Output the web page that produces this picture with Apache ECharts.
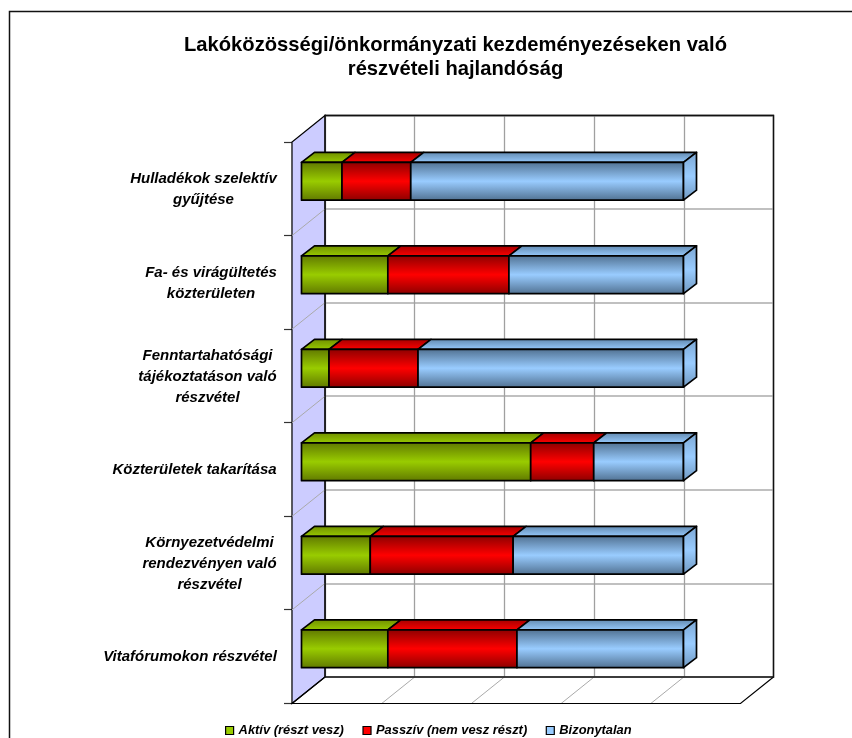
<!DOCTYPE html>
<html>
<head>
<meta charset="utf-8">
<style>html,body{margin:0;padding:0;background:#fff}#c{width:852px;height:738px}</style>
<script src="https://cdn.jsdelivr.net/npm/echarts@6/dist/echarts.min.js"></script>
</head>
<body>
<div id="c"></div>
<script>
const titleLines = ['Lakóközösségi/önkormányzati kezdeményezéseken való', 'részvételi hajlandóság'];
const categories = [
  'Hulladékok szelektív\ngyűjtése',
  'Fa- és virágültetés\nközterületen',
  'Fenntartahatósági\ntájékoztatáson való\nrészvétel',
  'Közterületek takarítása',
  'Környezetvédelmi\nrendezvényen való\nrészvétel',
  'Vitafórumokon részvétel'
];
const seriesNames = ['Aktív (részt vesz)', 'Passzív (nem vesz részt)', 'Bizonytalan'];
const aktiv = [10.6, 22.6, 7.2, 60.0, 18.0, 22.6];
const passziv = [18.0, 31.7, 23.3, 16.5, 37.4, 33.8];
const bizonytalan = [71.4, 45.7, 69.5, 23.5, 44.6, 43.6];
const backTicks = [0, 25, 50, 75, 100, 125];

const FONT = '"Liberation Sans", Arial, sans-serif';
const WALL_DX = -33, WALL_DY = 26.5;   // back plane -> front plane
const BAR_DX = 13, BAR_DY = -10;       // bar depth
const BAR_SHIFT_Y = -7.5;              // bar sits mid-depth
const palette = [
  {edge:'#5f7700', mid:'#99cc00', top:'#6f8c00', side:'#99cc00'},
  {edge:'#8a0000', mid:'#ff0000', top:'#a00000', side:'#ff0000'},
  {edge:'#4f6f8f', mid:'#99ccff', top:'#5f86ac', side:'#99ccff'}
];

const vgrad = (a, b, c) => ({type:'linear', x:0, y:0, x2:0, y2:1,
  colorStops: c ? [{offset:0,color:a},{offset:.5,color:b},{offset:1,color:c}]
                : [{offset:0,color:a},{offset:1,color:b}]});

const LABEL_SIZE = 15;
const measure = document.createElement('canvas').getContext('2d');
measure.font = 'italic bold ' + LABEL_SIZE + 'px ' + FONT;
function blockWidth(text) {
  return Math.ceil(Math.max(...text.split('\n').map(l => measure.measureText(l).width)));
}
const labelRich = {};
categories.forEach((c, i) => {
  labelRich['c' + i] = {width: blockWidth(c), align:'center', fontFamily:FONT, fontSize:LABEL_SIZE,
    fontWeight:'bold', fontStyle:'italic', color:'#000', lineHeight:21};
});

function barItem(seg) {
  return function (params, api) {
    const start = api.coord([api.value(0), api.value(2)]);
    const end = api.coord([api.value(1), api.value(2)]);
    const h = api.size([0, 1])[1] * 0.405;
    const x0 = start[0], x1 = end[0];
    const y0 = start[1] + BAR_SHIFT_Y - h / 2, y1 = y0 + h;
    const p = palette[seg];
    const line = {stroke:'#000', lineWidth:1.7, lineJoin:'round'};
    const kids = [
      {type:'polygon', shape:{points:[[x0,y0],[x0+BAR_DX,y0+BAR_DY],[x1+BAR_DX,y0+BAR_DY],[x1,y0]]},
       style:Object.assign({fill:vgrad(p.top,p.mid)}, line)},
      {type:'rect', shape:{x:x0,y:y0,width:x1-x0,height:h},
       style:Object.assign({fill:vgrad(p.edge,p.mid,p.edge)}, line)}
    ];
    if (seg === 2) {
      kids.push({type:'polygon', shape:{points:[[x1,y0],[x1+BAR_DX,y0+BAR_DY],[x1+BAR_DX,y1+BAR_DY],[x1,y1]]},
        style:Object.assign({fill:vgrad('#7ba6d2','#99ccff','#6f97bf')}, line)});
    }
    return {type:'group', children:kids};
  };
}

function stackData(seg) {
  return categories.map((_, i) => {
    const arr = [aktiv, passziv, bizonytalan];
    let s = 0;
    for (let k = 0; k < seg; k++) s += arr[k][i];
    return [s, s + arr[seg][i], i];
  });
}

function wallItem(params, api) {
  const r = params.coordSys;
  const kids = [];
  const bl = [r.x, r.y + r.height], tl = [r.x, r.y], br = [r.x + r.width, r.y + r.height], tr = [r.x + r.width, r.y];
  kids.push({type:'polygon', shape:{points:[tl,[tl[0]+WALL_DX,tl[1]+WALL_DY],[bl[0]+WALL_DX,bl[1]+WALL_DY],bl]},
    style:{fill:'#ccccff', stroke:'#000', lineWidth:1.2}});
  categories.forEach((_, i) => {
    if (i === 0) return;
    const y = r.y + r.height * i / categories.length;
    kids.push({type:'line', shape:{x1:r.x,y1:y,x2:r.x+WALL_DX,y2:y+WALL_DY}, style:{stroke:'#aaaaaa',lineWidth:1}});
  });
  backTicks.forEach((t, i) => {
    if (i === 0 || i === backTicks.length - 1) return;
    const x = api.coord([t, 0])[0];
    kids.push({type:'line', shape:{x1:x,y1:bl[1],x2:x+WALL_DX,y2:bl[1]+WALL_DY}, style:{stroke:'#aaaaaa',lineWidth:1}});
  });
  kids.push({type:'polyline', shape:{points:[bl,[bl[0]+WALL_DX,bl[1]+WALL_DY],[br[0]+WALL_DX,br[1]+WALL_DY],br]},
    style:{fill:'none', stroke:'#000', lineWidth:1.2}});
  kids.push({type:'polygon', shape:{points:[tl,tr,br,bl]},
    style:{fill:'none', stroke:'#111', lineWidth:1.3}});
  return {type:'group', children:kids};
}

const chart = echarts.init(document.getElementById('c'), null, {renderer:'canvas'});
chart.setOption({
  animation:false,
  backgroundColor:'#fff',
  title:{
    text:titleLines.join('\n'), left:455.5, top:34, padding:0, textAlign:'center',
    textStyle:{fontFamily:FONT, fontSize:20.2, fontWeight:'bold', color:'#000', lineHeight:23.5}
  },
  legend:{
    show:true, left:225, top:724, itemWidth:8, itemHeight:8, itemGap:18.5, icon:'rect',
    selectedMode:false, padding:0,
    textStyle:{fontFamily:FONT, fontSize:12.9, fontWeight:'bold', fontStyle:'italic', color:'#000'},
    data:seriesNames.map((n,i)=>({name:n, itemStyle:{color:palette[i].side, borderColor:'#000', borderWidth:1.2}}))
  },
  grid:[
    {left:325, top:115.5, width:448.5, height:561.5, show:true, borderColor:'#222', borderWidth:1.3, backgroundColor:'#fff', containLabel:false},
    {left:301.5, top:142, width:382, height:561, containLabel:false}
  ],
  xAxis:[
    {gridIndex:0, type:'value', min:0, max:125, interval:25,
     axisLine:{show:false}, axisTick:{show:false}, axisLabel:{show:false},
     splitLine:{show:true, lineStyle:{color:'#a0a0a0', width:1.3}}},
    {gridIndex:1, type:'value', min:0, max:100, show:false, splitLine:{show:false}}
  ],
  yAxis:[
    {gridIndex:0, type:'category', inverse:true, data:categories,
     axisLine:{show:false}, axisTick:{show:false}, axisLabel:{show:false},
     splitLine:{show:true, lineStyle:{color:'#c0c0c0', width:2}}},
    {gridIndex:1, type:'category', inverse:true, data:categories, offset:9.5,
     axisLine:{show:true, onZero:false, lineStyle:{color:'#000', width:1.2}},
     axisTick:{show:true, length:8, lineStyle:{color:'#333', width:1.2}},
     splitLine:{show:false},
     axisLabel:{show:true, interval:0, margin:15, align:'right', padding:[2,0,0,0],
       formatter:(v, i) => v.split('\n').map(l => '{c' + i + '|' + l + '}').join('\n'),
       rich:labelRich}}
  ],
  series:[
    {type:'custom', name:'walls', xAxisIndex:0, yAxisIndex:0, data:[[0]], renderItem:wallItem, silent:true, z:3, clip:false},
    ...seriesNames.map((n, seg) => ({
      type:'custom', name:n, xAxisIndex:1, yAxisIndex:1, clip:false, z:5 + seg,
      itemStyle:{color:palette[seg].side},
      encode:{x:[0,1], y:2},
      data:stackData(seg),
      renderItem:barItem(seg)
    }))
  ],
  graphic:[
    {type:'polyline', silent:true, z:100,
     shape:{points:[[9.5,738],[9.5,11.5],[852,11.5]]},
     style:{fill:'none', stroke:'#111', lineWidth:1.5}}
  ]
});
</script>
</body>
</html>
